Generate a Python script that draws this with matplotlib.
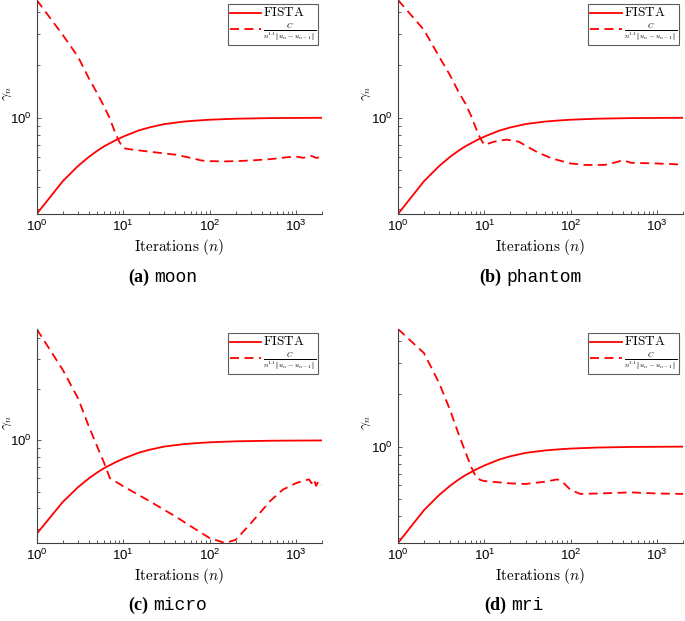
import numpy as np
import matplotlib
matplotlib.use('Agg')
import matplotlib.pyplot as plt
from matplotlib.ticker import LogLocator, NullFormatter

plt.rcParams['font.family'] = ['Liberation Sans', 'DejaVu Sans']
plt.rcParams['mathtext.fontset'] = 'cm'

# FISTA inertial parameter (same in every panel)
fista_n = [1, 2, 3, 4, 5, 6, 8, 10, 15, 20, 30, 50, 70, 100, 200, 500, 1000, 2000]
fista_g = [0.282, 0.434, 0.53, 0.597, 0.647, 0.686, 0.74, 0.78, 0.845, 0.88,
           0.92, 0.95, 0.963, 0.974, 0.987, 0.995, 0.997, 0.999]

# adaptive parameter C / (n^1.1 ||u_n - u_{n-1}||), read per panel
moon_n = [1, 2, 3, 4, 5, 6, 7, 8, 9, 10, 12, 20, 40, 60, 80, 100, 150, 200, 300,
          500, 800, 1000, 1200, 1500, 1700, 2000]
moon_g = [4.7, 2.97, 2.23, 1.68, 1.38, 1.16, 0.99, 0.83, 0.73, 0.67, 0.66, 0.64,
          0.615, 0.59, 0.57, 0.565, 0.563, 0.565, 0.57, 0.58, 0.595, 0.60, 0.59,
          0.605, 0.59, 0.595]

phantom_n = [1, 2, 3, 4, 5, 6, 7, 8, 9, 10, 13, 18, 25, 40, 60, 100, 150, 250,
             350, 400, 500, 1000, 2000]
phantom_g = [4.7, 3.17, 2.23, 1.75, 1.41, 1.21, 1.03, 0.87, 0.76, 0.70, 0.73,
             0.75, 0.73, 0.64, 0.586, 0.548, 0.537, 0.538, 0.56, 0.573, 0.553,
             0.548, 0.54]

micro_n = [1, 2, 3, 4, 5, 6, 7, 10, 20, 40, 70, 100, 150, 200, 300, 500, 700,
           1000, 1400, 1500, 1600, 1700, 1800, 2000]
micro_g = [4.52, 2.6, 1.77, 1.21, 0.92, 0.74, 0.60, 0.537, 0.44, 0.357, 0.298,
           0.266, 0.249, 0.26, 0.326, 0.44, 0.513, 0.561, 0.59, 0.56, 0.59,
           0.54, 0.575, 0.549]

mri_n = [1, 2, 3, 4, 5, 6, 7, 8, 9, 10, 20, 30, 50, 70, 80, 100, 130, 200,
         500, 1000, 2000]
mri_g = [4.68, 3.41, 2.30, 1.62, 1.19, 0.94, 0.77, 0.67, 0.645, 0.636, 0.617,
         0.612, 0.63, 0.65, 0.63, 0.565, 0.537, 0.54, 0.548, 0.54, 0.537]

panels = [('(a)', 'moon', moon_n, moon_g, (0.282, 4.7)),
          ('(b)', 'phantom', phantom_n, phantom_g, (0.282, 4.7)),
          ('(c)', 'micro', micro_n, micro_g, (0.249, 4.52)),
          ('(d)', 'mri', mri_n, mri_g, (0.282, 4.68))]

W, H = 685, 621
# axes boxes in pixels: left, top, right, bottom
boxes = [(36.7, 0, 322.3, 214), (398, 0, 683, 214),
         (36.7, 329, 322.3, 543), (398, 329, 683, 543)]
# y label centre x in pixels
ylab_x = [7, 366, 7, 366]
# caption anchors in pixels: x where "(x)" ends, y
caps = [(149, 277), (501, 277), (148, 605), (506, 605)]

fig = plt.figure(figsize=(W / 100, H / 100), dpi=100)
red = '#ff0000'
grey = '#404040'

for (tag, name, xn, yg, ylim), (l, t, r, b), yx, (cx, cy) in zip(panels, boxes, ylab_x, caps):
    ax = fig.add_axes([l / W, 1 - b / H, (r - l) / W, (b - t) / H])
    ax.plot(fista_n, fista_g, color=red, lw=1.3, label=r'$\mathrm{FISTA}$')
    ax.plot(xn, yg, color=red, lw=1.3, ls=(0, (5, 3)),
            label=r'$\frac{C}{n^{1.1}\|u_n-u_{n-1}\|}$')
    ax.set_xscale('log')
    ax.set_yscale('log')
    ax.set_xlim(1, 2000)
    ax.set_ylim(*ylim)
    ax.yaxis.set_major_locator(LogLocator(base=10))
    ax.yaxis.set_minor_locator(LogLocator(base=10, subs=np.arange(2, 10)))
    ax.yaxis.set_minor_formatter(NullFormatter())
    ax.xaxis.set_minor_locator(LogLocator(base=10, subs=np.arange(2, 10)))
    ax.xaxis.set_minor_formatter(NullFormatter())
    for s in ['top', 'right']:
        ax.spines[s].set_visible(False)
    for s in ['left', 'bottom']:
        ax.spines[s].set_color(grey)
        ax.spines[s].set_linewidth(0.8)
    ax.tick_params(which='both', direction='in', colors=grey, labelcolor='black',
                   labelsize=9.5)
    ax.tick_params(which='major', length=3, width=0.6)
    ax.tick_params(which='minor', length=2, width=0.6)
    ax.set_xlabel(r'$\mathrm{Iterations}\ (n)$', fontsize=11, labelpad=2)
    ax.set_ylabel(r'$\gamma_n$', fontsize=10, va='center', ha='center')
    ax.yaxis.set_label_coords((yx - l) / (r - l), 0.56)
    leg = ax.legend(loc='upper right', fontsize=7.5, frameon=True, fancybox=False,
                    borderpad=0.2, handlelength=3, handletextpad=0.2,
                    labelspacing=0.05, borderaxespad=0.4)
    leg.get_texts()[0].set_fontsize(9.5)
    leg.get_frame().set_edgecolor('#333333')
    leg.get_frame().set_linewidth(0.8)

    fig.text(cx / W, 1 - cy / H, tag, ha='right', va='center', fontsize=13,
             family='Liberation Serif', weight='bold')
    fig.text((cx + 5) / W, 1 - cy / H, name, ha='left', va='center', fontsize=13,
             family='Liberation Mono')

fig.savefig('out.png', dpi=100)
